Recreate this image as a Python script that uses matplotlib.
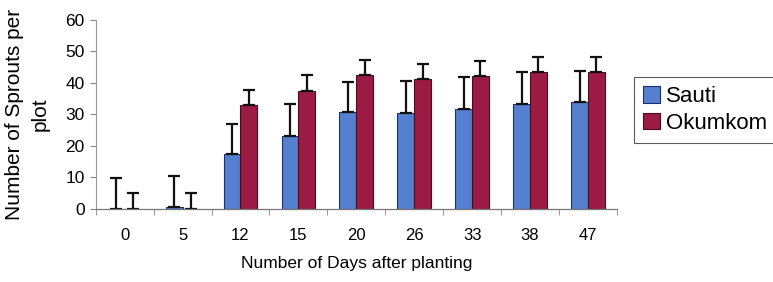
import numpy as np
import matplotlib.pyplot as plt

plt.rcParams['font.family'] = ['Liberation Sans', 'DejaVu Sans']

days = ['0', '5', '12', '15', '20', '26', '33', '38', '47']
sauti = [0, 0.6, 17.5, 23.3, 30.7, 30.6, 31.8, 33.4, 33.9]
sauti_err = [9.9, 10.0, 9.6, 9.9, 9.7, 10.1, 10.0, 10.1, 9.9]
okumkom = [0, 0, 33.0, 37.6, 42.5, 41.3, 42.1, 43.5, 43.5]
okumkom_err = [5.2, 5.2, 4.8, 4.8, 4.7, 4.6, 4.9, 4.7, 4.7]

fig = plt.figure(figsize=(7.73, 2.82), dpi=100)
ax = fig.add_axes([0.1238, 0.2589, 0.6742, 0.6702])

x = np.arange(len(days))
w = 0.29
err_kw = dict(ecolor='#111111', elinewidth=1.6, capsize=4.5, capthick=1.6)
ax.bar(x - w / 2, sauti, w, color='#5580d0', edgecolor='#1d2f6e', linewidth=0.8,
       yerr=[np.zeros(len(days)), sauti_err], error_kw=err_kw, label='Sauti')
ax.bar(x + w / 2, okumkom, w, color='#9b1b45', edgecolor='#4a0d20', linewidth=0.8,
       yerr=[np.zeros(len(days)), okumkom_err], error_kw=err_kw, label='Okumkom')

ax.set_xlim(-0.5, len(days) - 0.5)
ax.set_ylim(0, 60)
ax.set_yticks(range(0, 61, 10))
ax.set_xticks(x)
ax.set_xticklabels(days)
ax.set_xticks(np.arange(-0.5, len(days)), minor=True)
ax.tick_params(axis='x', which='major', length=0, pad=14, labelsize=12)
ax.tick_params(axis='x', which='minor', length=4, color='#888888')
ax.tick_params(axis='y', length=4, color='#888888', labelsize=12.5, pad=4)

for s in ['top', 'right']:
    ax.spines[s].set_visible(False)
ax.spines['left'].set_color('#999999')
ax.spines['left'].set_linewidth(0.8)
ax.spines['bottom'].set_color('#777777')
ax.spines['bottom'].set_linewidth(0.9)

ax.set_xlabel('Number of Days after planting', fontsize=12.5, labelpad=9)
ax.set_ylabel('Number of Sprouts per\nplot', fontsize=15, labelpad=11, linespacing=1.45)

leg = ax.legend(loc='center left', bbox_to_anchor=(1.033, 0.524), fontsize=16,
                frameon=True, fancybox=False, edgecolor='#333333',
                handlelength=0.75, handleheight=0.75, handletextpad=0.3,
                borderpad=0.4, labelspacing=0.25, borderaxespad=0)
leg.get_frame().set_linewidth(0.8)

fig.savefig('out.png', dpi=100)
